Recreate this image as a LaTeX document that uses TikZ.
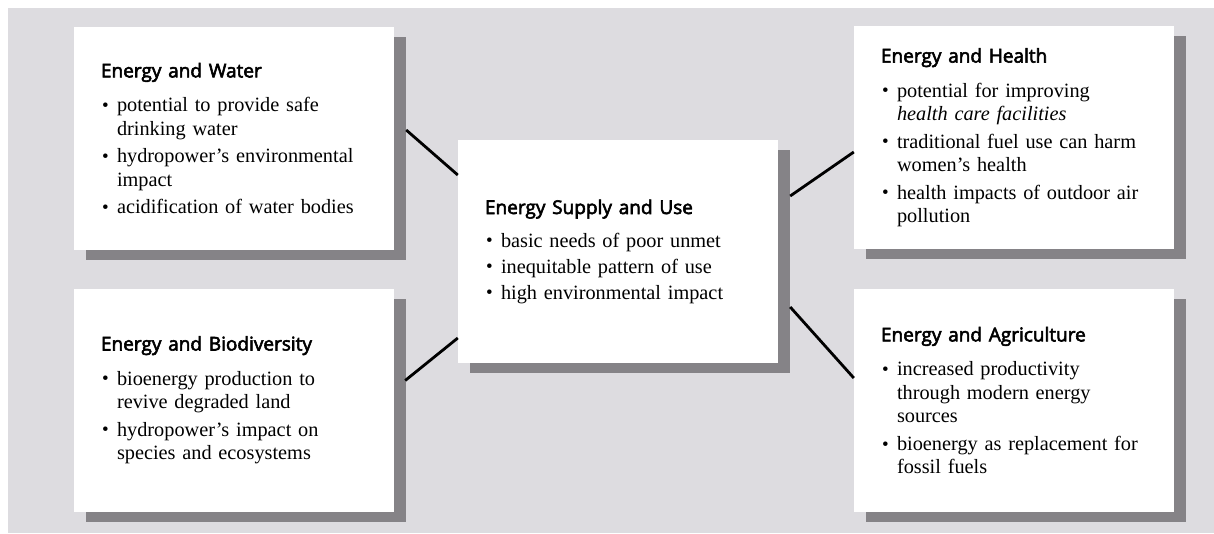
\documentclass[tikz,border=0pt]{standalone}
\usepackage{fontspec}
\setmainfont{Liberation Serif}
\newfontfamily\ttlfont[FakeBold=3]{Open Sans}
\usetikzlibrary{shadows}
\definecolor{bggray}{RGB}{221,220,224}
\definecolor{shgray}{RGB}{133,131,135}
\newcommand\boxtitle[1]{\leftskip=27pt\rightskip=0pt plus 1fil\noindent{\ttlfont\fontsize{19}{23}\selectfont #1}\par\vspace{7pt}}
\newcommand\itm[2][4pt]{\par\vspace{#1}\hangindent=16pt\hangafter=1\noindent\makebox[16pt][l]{\hspace{1pt}\fontsize{19}{19}\selectfont\raisebox{0.3pt}{•}}#2}
\tikzset{
  infobox/.style={fill=white, minimum width=320pt, minimum height=223pt,
    text width=320pt, inner xsep=0pt, inner ysep=0pt, align=left,
    font=\fontsize{20.3}{23.5}\selectfont,
    drop shadow={shadow xshift=12pt, shadow yshift=-10pt, fill=shgray, opacity=1}},
  conn/.style={line width=2.8pt, black}
}
\begin{document}
\begin{tikzpicture}[x=1pt,y=-1pt]
\useasboundingbox (0,0) rectangle (1214,533);
\fill[bggray] (8,8) rectangle (1214,533);

\node[infobox] (water) at (234,138.5) {\boxtitle{Energy and Water}%
\itm{potential to provide safe\newline drinking water}%
\itm{hydropower’s environmental\newline impact}%
\itm{acidification of water bodies}\par};

\node[infobox] (bio) at (234,400) {\boxtitle{Energy and Biodiversity}%
\itm{bioenergy production to\newline revive degraded land}%
\itm{hydropower’s impact on\newline species and ecosystems}\par};

\node[infobox] (center) at (618,251.5) {\boxtitle{Energy Supply and Use}%
\itm[2.5pt]{basic needs of poor unmet}%
\itm[2.5pt]{inequitable pattern of use}%
\itm[2.5pt]{high environmental impact}\par};

\node[infobox] (health) at (1014,137.5) {\boxtitle{Energy and Health}%
\itm{potential for improving\newline\textit{health care facilities}}%
\itm{traditional fuel use can harm\newline women’s health}%
\itm{health impacts of outdoor air\newline pollution}\par};

\node[infobox] (agri) at (1014,400.5) {\boxtitle{Energy and Agriculture}%
\itm{increased productivity\newline through modern energy\newline sources}%
\itm{bioenergy as replacement for\newline fossil fuels}\par};

\draw[conn] ([xshift=12pt,yshift=8.5pt]water.east) -- ([yshift=76.5pt]center.west);
\draw[conn] ([xshift=11pt,yshift=19.5pt]bio.east) -- ([yshift=-86.5pt]center.west);
\draw[conn] ([xshift=12pt,yshift=55.5pt]center.east) -- ([yshift=-14.5pt]health.west);
\draw[conn] ([xshift=12pt,yshift=-55.5pt]center.east) -- ([yshift=22.5pt]agri.west);
\end{tikzpicture}
\end{document}
